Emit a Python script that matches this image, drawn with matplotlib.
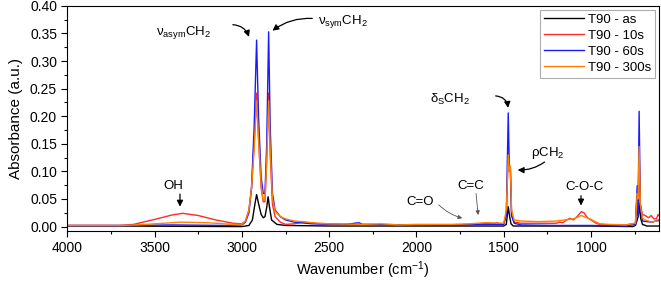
import numpy as np
import matplotlib.pyplot as plt

plt.rcParams['font.family'] = ['Liberation Sans', 'DejaVu Sans']
plt.rcParams['mathtext.fontset'] = 'custom'
plt.rcParams['mathtext.rm'] = 'Liberation Sans'
plt.rcParams['mathtext.it'] = 'Liberation Sans'
plt.rcParams['mathtext.bf'] = 'Liberation Sans:bold'

# T90 - as (black)
wn_as = [4000, 3700, 3050, 3000, 2960, 2940, 2925, 2916, 2905, 2890, 2878, 2868, 2858, 2850,
         2842, 2830, 2800, 2750, 2500, 2000, 1500, 1485, 1474, 1466, 1458, 1445, 1000, 760,
         745, 735, 728, 722, 715, 705, 680, 650, 610]
ab_as = [0.001, 0.001, 0.0, 0.0, 0.002, 0.012, 0.042, 0.058, 0.042, 0.022, 0.016, 0.018, 0.035, 0.054,
         0.035, 0.012, 0.004, 0.002, 0.001, 0.001, 0.001, 0.004, 0.036, 0.018, 0.005, 0.001, 0.001, 0.0,
         0.002, 0.012, 0.02, 0.042, 0.015, 0.004, 0.001, 0.001, 0.001]

# T90 - 10s (red)
wn_10 = [4000, 3700, 3620, 3500, 3400, 3340, 3250, 3150, 3050, 3000, 2980, 2960, 2945, 2930,
         2916, 2905, 2890, 2878, 2868, 2858, 2847, 2838, 2825, 2810, 2780, 2750, 2700, 2650,
         2600, 2500, 2000, 1800, 1700, 1650, 1600, 1560, 1540, 1520, 1500, 1485, 1474, 1468,
         1462, 1455, 1440, 1400, 1300, 1200, 1180, 1160, 1140, 1120, 1100, 1080, 1055, 1040,
         1020, 1000, 970, 950, 900, 800, 745, 735, 730, 724, 717, 705, 690, 670, 655, 640,
         625, 615, 610]
ab_10 = [0.002, 0.002, 0.004, 0.013, 0.021, 0.024, 0.02, 0.012, 0.006, 0.005, 0.01, 0.03, 0.07, 0.15,
         0.242, 0.16, 0.07, 0.045, 0.045, 0.12, 0.242, 0.13, 0.04, 0.018, 0.008, 0.004, 0.005, 0.008,
         0.006, 0.004, 0.003, 0.003, 0.004, 0.005, 0.006, 0.005, 0.007, 0.005, 0.005, 0.02, 0.133, 0.1,
         0.108, 0.02, 0.008, 0.006, 0.006, 0.006, 0.008, 0.007, 0.012, 0.015, 0.012, 0.018, 0.027, 0.025,
         0.016, 0.012, 0.006, 0.004, 0.003, 0.003, 0.006, 0.06, 0.04, 0.13, 0.04, 0.022, 0.02, 0.016, 0.02, 0.014,
         0.014, 0.022, 0.02]

# T90 - 60s (blue)
wn_60 = [4000, 3650, 3400, 3100, 3000, 2980, 2960, 2945, 2930, 2916, 2905, 2890, 2878, 2868,
         2858, 2847, 2838, 2825, 2810, 2780, 2750, 2700, 2600, 2400, 2330, 2310, 2000, 1800,
         1700, 1600, 1500, 1485, 1474, 1468, 1462, 1455, 1440, 1400, 1200, 1000, 800, 745,
         735, 730, 724, 717, 705, 680, 650, 630, 610]
ab_60 = [0.002, 0.002, 0.003, 0.002, 0.003, 0.008, 0.025, 0.07, 0.18, 0.338, 0.2, 0.09, 0.06, 0.06,
         0.15, 0.353, 0.18, 0.06, 0.03, 0.018, 0.012, 0.008, 0.005, 0.004, 0.007, 0.004, 0.003, 0.002,
         0.003, 0.004, 0.004, 0.02, 0.206, 0.11, 0.108, 0.02, 0.006, 0.003, 0.002, 0.002, 0.001, 0.004,
         0.074, 0.02, 0.209, 0.04, 0.01, 0.009, 0.008, 0.01, 0.012]

# T90 - 300s (orange)
wn_300 = [4000, 3700, 3600, 3450, 3350, 3200, 3050, 3000, 2980, 2960, 2945, 2930, 2916, 2905,
          2890, 2878, 2868, 2858, 2847, 2838, 2825, 2810, 2780, 2750, 2700, 2650, 2600, 2500,
          2300, 2200, 2100, 2000, 1800, 1700, 1650, 1600, 1500, 1485, 1474, 1468, 1462, 1455,
          1440, 1400, 1300, 1200, 1150, 1100, 1055, 1000, 970, 950, 900, 800, 745, 735, 730,
          724, 717, 705, 690, 670, 650, 630, 610]
ab_300 = [0.002, 0.002, 0.003, 0.006, 0.008, 0.007, 0.004, 0.004, 0.01, 0.03, 0.07, 0.14, 0.228, 0.16,
          0.075, 0.048, 0.048, 0.12, 0.228, 0.14, 0.05, 0.028, 0.018, 0.014, 0.01, 0.009, 0.007, 0.005,
          0.004, 0.005, 0.003, 0.004, 0.004, 0.005, 0.006, 0.007, 0.006, 0.03, 0.13, 0.1, 0.11, 0.03,
          0.012, 0.01, 0.009, 0.01, 0.012, 0.014, 0.02, 0.013, 0.008, 0.005, 0.004, 0.003, 0.006, 0.06, 0.05,
          0.145, 0.04, 0.015, 0.012, 0.01, 0.008, 0.01, 0.01]

fig = plt.figure(figsize=(6.61, 2.81), dpi=100)
ax = fig.add_axes([0.102, 0.178, 0.895, 0.801])

ax.plot(wn_as, ab_as, color='black', lw=1, label='T90 - as')
ax.plot(wn_10, ab_10, color='#ff2a2a', lw=1, label='T90 - 10s')
ax.plot(wn_60, ab_60, color='#1a1aff', lw=1, label='T90 - 60s')
ax.plot(wn_300, ab_300, color='#ff8000', lw=1, label='T90 - 300s')

ax.set_xlim(4000, 610)
ax.set_ylim(-0.008, 0.40)
ax.set_xticks([4000, 3500, 3000, 2500, 2000, 1500, 1000])
ax.set_xticks(np.arange(4000, 600, -250), minor=True)
ax.set_yticks(np.arange(0, 0.401, 0.05))
ax.set_yticks(np.arange(0, 0.401, 0.025), minor=True)
ax.set_yticklabels([f'{v:.2f}' for v in np.arange(0, 0.401, 0.05)])
ax.tick_params(direction='out', labelsize=10, length=4, width=0.8)
ax.tick_params(which='minor', direction='out', length=2.5, width=0.8)
ax.set_xlabel('Wavenumber (cm$^{-1}$)', fontsize=10.5, labelpad=3)
ax.set_ylabel('Absorbance (a.u.)', fontsize=11, labelpad=5)

leg = ax.legend(loc='upper right', fontsize=9.5, frameon=True, fancybox=False,
                edgecolor='#999999', handlelength=3.0, handletextpad=0.3,
                borderpad=0.3, labelspacing=0.28, borderaxespad=0.3)
leg.get_frame().set_linewidth(0.8)

# annotations
fs = 9.5
ax.text(3337, 0.352, r'$\nu_{\mathrm{asym}}$CH$_2$', fontsize=fs, ha='center', va='center')
ax.annotate('', xy=(2955, 0.339), xytext=(3068, 0.366),
            arrowprops=dict(arrowstyle='-|>', color='black', lw=0.9,
                            connectionstyle='arc3,rad=-0.4', mutation_scale=9))
ax.text(2421, 0.371, r'$\nu_{\mathrm{sym}}$CH$_2$', fontsize=fs, ha='center', va='center')
ax.annotate('', xy=(2838, 0.352), xytext=(2581, 0.377),
            arrowprops=dict(arrowstyle='-|>', color='black', lw=0.9,
                            connectionstyle='arc3,rad=0.2', mutation_scale=9))
ax.text(1808, 0.23, r'$\delta_{\mathrm{S}}$CH$_2$', fontsize=fs, ha='center', va='center')
ax.annotate('', xy=(1474, 0.210), xytext=(1562, 0.237),
            arrowprops=dict(arrowstyle='-|>', color='black', lw=0.9,
                            connectionstyle='arc3,rad=-0.5', mutation_scale=9))
ax.text(1247, 0.133, r'$\rho$CH$_2$', fontsize=fs, ha='center', va='center')
ax.annotate('', xy=(1436, 0.103), xytext=(1253, 0.12),
            arrowprops=dict(arrowstyle='-|>', color='black', lw=0.9,
                            connectionstyle='arc3,rad=-0.2', mutation_scale=9))
ax.text(3395, 0.074, 'OH', fontsize=fs, ha='center', va='center')
ax.annotate('', xy=(3355, 0.031), xytext=(3355, 0.064),
            arrowprops=dict(arrowstyle='-|>', color='black', lw=0.9, mutation_scale=9))
ax.text(1035, 0.071, 'C-O-C', fontsize=fs, ha='center', va='center')
ax.annotate('', xy=(1057, 0.033), xytext=(1057, 0.061),
            arrowprops=dict(arrowstyle='-|>', color='black', lw=0.9, mutation_scale=9))
ax.text(1688, 0.074, 'C=C', fontsize=fs, ha='center', va='center')
ax.annotate('', xy=(1645, 0.016), xytext=(1660, 0.065),
            arrowprops=dict(arrowstyle='-|>', color='#555555', lw=0.6, mutation_scale=6))
ax.text(1980, 0.044, 'C=O', fontsize=fs, ha='center', va='center')
ax.annotate('', xy=(1722, 0.014), xytext=(1884, 0.043),
            arrowprops=dict(arrowstyle='-|>', color='#555555', lw=0.6, mutation_scale=6,
                            connectionstyle='arc3,rad=0.15'))

fig.savefig('out.png', dpi=100)
